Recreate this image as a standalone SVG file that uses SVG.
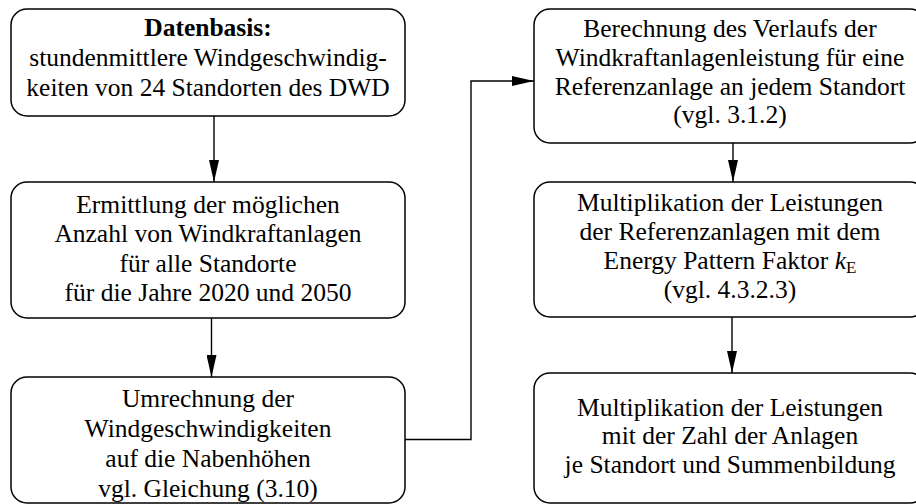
<svg xmlns="http://www.w3.org/2000/svg" width="916" height="504" viewBox="0 0 916 504">
<style>
.box{fill:#fff;stroke:#000;stroke-width:1.5}
.t{font-family:'Liberation Serif',Tinos,'Times New Roman',Times,serif;font-size:25.5px;fill:#000;text-anchor:middle}
.b{font-weight:bold}
.c{fill:none;stroke:#000;stroke-width:1.4}
</style>
<defs>
<marker id="ah" markerWidth="22" markerHeight="10" refX="22" refY="5" orient="auto" markerUnits="userSpaceOnUse">
<path d="M0,0 L22,5 L0,10 Z" fill="#000"/>
</marker>
</defs>
<rect width="916" height="504" fill="#fff"/>
<g id="connectors">
<line class="c" x1="214" y1="116" x2="214" y2="182" marker-end="url(#ah)"/>
<line class="c" x1="211.5" y1="318" x2="211.5" y2="377" marker-end="url(#ah)"/>
<polyline class="c" points="405,439.5 471,439.5 471,81 534,81" marker-end="url(#ah)"/>
<line class="c" x1="733" y1="143" x2="733" y2="182" marker-end="url(#ah)"/>
<line class="c" x1="732" y1="317" x2="732" y2="373" marker-end="url(#ah)"/>
</g>
<g font-family="Liberation Serif, serif">
<g id="n1">
<rect class="box" x="11" y="9" width="394" height="107" rx="16"/>
<text class="t b" x="208" y="36">Datenbasis:</text>
<text class="t" x="208" y="66">stundenmittlere Windgeschwindig-</text>
<text class="t" x="208" y="96">keiten von 24 Standorten des DWD</text>
</g>
<g id="n2">
<rect class="box" x="11" y="182" width="394" height="136" rx="16"/>
<text class="t" x="208" y="213">Ermittlung der möglichen</text>
<text class="t" x="208" y="242">Anzahl von Windkraftanlagen</text>
<text class="t" x="208" y="272">für alle Standorte</text>
<text class="t" x="208" y="301">für die Jahre 2020 und 2050</text>
</g>
<g id="n3">
<rect class="box" x="11" y="377" width="394" height="126" rx="16"/>
<text class="t" x="208" y="407">Umrechnung der</text>
<text class="t" x="208" y="437">Windgeschwindigkeiten</text>
<text class="t" x="208" y="467">auf die Nabenhöhen</text>
<text class="t" x="208" y="497">vgl. Gleichung (3.10)</text>
</g>
<g id="n4">
<rect class="box" x="534" y="9" width="392" height="134" rx="16"/>
<text class="t" x="730" y="37">Berechnung des Verlaufs der</text>
<text class="t" x="730" y="66">Windkraftanlagenleistung für eine</text>
<text class="t" x="730" y="95">Referenzanlage an jedem Standort</text>
<text class="t" x="730" y="123">(vgl. 3.1.2)</text>
</g>
<g id="n5">
<rect class="box" x="534" y="182" width="392" height="135" rx="16"/>
<text class="t" x="730" y="211">Multiplikation der Leistungen</text>
<text class="t" x="730" y="240">der Referenzanlagen mit dem</text>
<text class="t" x="730" y="269">Energy Pattern Faktor <tspan font-style="italic">k</tspan><tspan font-size="17" dy="4">E</tspan></text>
<text class="t" x="730" y="298">(vgl. 4.3.2.3)</text>
</g>
<g id="n6">
<rect class="box" x="534" y="373" width="392" height="130" rx="16"/>
<text class="t" x="730" y="416">Multiplikation der Leistungen</text>
<text class="t" x="730" y="444">mit der Zahl der Anlagen</text>
<text class="t" x="730" y="473">je Standort und Summenbildung</text>
</g>
</g>
</svg>
